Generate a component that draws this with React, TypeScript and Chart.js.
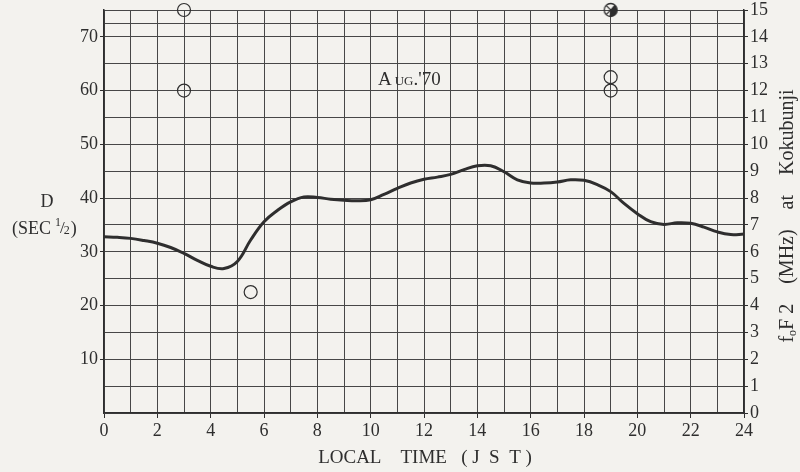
import React, { useEffect, useRef } from 'react';
import { Chart, registerables } from 'chart.js';

Chart.register(...registerables);

// Local time (hours, JST)
const hours = [0, 0.5, 1, 1.5, 2, 2.5, 3, 3.5, 4, 4.5, 5, 5.5, 6, 6.5, 7, 7.5, 8, 8.5, 9, 9.5, 10, 10.5, 11, 11.5, 12, 12.5, 13, 13.5, 14, 14.5, 15, 15.5, 16, 16.5, 17, 17.5, 18, 18.5, 19, 19.5, 20, 20.5, 21, 21.5, 22, 22.5, 23, 23.5, 24];
// D (sec^1/2) curve
const dValues = [32.8, 32.7, 32.5, 32.1, 31.6, 30.8, 29.7, 28.4, 27.3, 26.9, 28.2, 32.2, 35.6, 37.7, 39.3, 40.2, 40.1, 39.8, 39.6, 39.5, 39.7, 40.7, 41.8, 42.8, 43.5, 43.9, 44.4, 45.3, 46.0, 46.0, 44.9, 43.4, 42.8, 42.8, 43.0, 43.4, 43.3, 42.5, 41.2, 39.0, 37.1, 35.6, 35.1, 35.4, 35.3, 34.6, 33.7, 33.2, 33.3];

// open circle observations
const circleHours = [3, 3, 5.5, 19, 19];
const circleValues = [75, 60, 22.5, 62.5, 60];
// crossed circle observation
const crossHours = [19];
const crossValues = [75];

// axis ticks
const leftGridTicks = [0, 5, 10, 15, 20, 25, 30, 35, 40, 45, 50, 55, 60, 65, 70, 72.5, 75];
const leftLabelTicks = [10, 20, 30, 40, 50, 60, 70];
const rightTicks = [0, 1, 2, 3, 4, 5, 6, 7, 8, 9, 10, 11, 12, 13, 14, 15];
const xLabelHours = [0, 2, 4, 6, 8, 10, 12, 14, 16, 18, 20, 22, 24];

const INK = '#2e2e2e';
const GRID = '#474747';
const BG = '#f3f2ee';
const SERIF = '"Liberation Serif", "DejaVu Serif", serif';

function makeCrossedCircle(): HTMLCanvasElement {
  const c = document.createElement('canvas');
  c.width = 18;
  c.height = 18;
  const g = c.getContext('2d')!;
  g.strokeStyle = INK;
  g.lineWidth = 1.3;
  g.beginPath();
  g.arc(9, 9, 6.5, 0, Math.PI * 2);
  g.stroke();
  g.fillStyle = INK;
  g.beginPath();
  g.moveTo(9, 9);
  g.arc(9, 9, 6.5, -Math.PI * 0.3, Math.PI * 0.55);
  g.closePath();
  g.fill();
  g.beginPath();
  g.moveTo(4.4, 4.4);
  g.lineTo(13.6, 13.6);
  g.moveTo(13.6, 4.4);
  g.lineTo(4.4, 13.6);
  g.stroke();
  return c;
}

const textPlugin = {
  id: 'texts',
  beforeDraw(chart: any) {
    const ctx = chart.ctx;
    ctx.save();
    ctx.fillStyle = BG;
    ctx.fillRect(0, 0, chart.width, chart.height);
    ctx.restore();
  },
  afterDraw(chart: any) {
    const ctx = chart.ctx;
    ctx.save();
    ctx.fillStyle = INK;
    ctx.textBaseline = 'alphabetic';

    // left axis title: D (SEC 1/2)
    ctx.font = `18px ${SERIF}`;
    ctx.textAlign = 'center';
    ctx.fillText('D', 47, 207);
    ctx.textAlign = 'left';
    let x = 12;
    const yb = 234;
    ctx.font = `18px ${SERIF}`;
    ctx.fillText('(SEC', x, yb);
    x += ctx.measureText('(SEC').width + 4;
    ctx.font = `12px ${SERIF}`;
    ctx.fillText('1', x, yb - 8);
    x += ctx.measureText('1').width - 1;
    ctx.font = `17px ${SERIF}`;
    ctx.fillText('/', x, yb - 1);
    x += ctx.measureText('/').width - 1;
    ctx.font = `12px ${SERIF}`;
    ctx.fillText('2', x, yb);
    x += ctx.measureText('2').width + 1;
    ctx.font = `18px ${SERIF}`;
    ctx.fillText(')', x, yb);

    // x axis title
    ctx.font = `19px ${SERIF}`;
    ctx.textAlign = 'center';
    ctx.fillText('LOCAL    TIME   ( J  S  T )', 425, 463);

    // annotation AUG.'70
    ctx.textAlign = 'left';
    let ax = 378;
    const ab = 85;
    ctx.font = `19px ${SERIF}`;
    ctx.fillText('A', ax, ab);
    ax += ctx.measureText('A').width + 3;
    ctx.font = `13px ${SERIF}`;
    ctx.fillText('UG', ax, ab);
    ax += ctx.measureText('UG').width;
    ctx.font = `19px ${SERIF}`;
    ctx.fillText(".'70", ax, ab);

    // right axis title (rotated)
    ctx.translate(787, 216);
    ctx.rotate(-Math.PI / 2);
    const big = `20px ${SERIF}`;
    const small = `12px ${SERIF}`;
    const pieces: [string, string, number][] = [
      ['f', big, 0],
      ['o', small, 3],
      ['F 2    (MHz)    at    Kokubunji', big, 0],
    ];
    let total = 0;
    for (const [t, f] of pieces) {
      ctx.font = f;
      total += ctx.measureText(t).width;
    }
    let px = -total / 2;
    for (const [t, f, dy] of pieces) {
      ctx.font = f;
      ctx.fillText(t, px, 6 + dy);
      px += ctx.measureText(t).width;
    }
    ctx.restore();
  },
};

export default function App() {
  const ref = useRef<HTMLCanvasElement | null>(null);

  useEffect(() => {
    document.body.style.margin = '0';
    document.body.style.background = BG;
    const canvas = ref.current;
    if (!canvas) return;
    const crossed = makeCrossedCircle();

    const chart = new Chart(canvas, {
      type: 'line',
      data: {
        datasets: [
          {
            label: 'D',
            data: hours.map((h, i) => ({ x: h, y: dValues[i] })),
            borderColor: INK,
            borderWidth: 3,
            pointRadius: 0,
            tension: 0.4,
            fill: false,
            yAxisID: 'y',
            clip: false,
          } as any,
          {
            label: 'obs',
            data: circleHours.map((h, i) => ({ x: h, y: circleValues[i] })),
            showLine: false,
            pointStyle: 'circle',
            pointRadius: 6.5,
            pointBorderWidth: 1.2,
            pointBorderColor: INK,
            pointBackgroundColor: 'rgba(0,0,0,0)',
            yAxisID: 'y',
            clip: false,
          } as any,
          {
            label: 'crossed',
            data: crossHours.map((h, i) => ({ x: h, y: crossValues[i] })),
            showLine: false,
            pointStyle: crossed,
            pointRadius: 9,
            yAxisID: 'y',
            clip: false,
          } as any,
        ],
      },
      options: {
        animation: false,
        responsive: false,
        maintainAspectRatio: false,
        layout: { padding: { top: 10, left: 0, right: 0, bottom: 0 } },
        plugins: {
          legend: { display: false },
          tooltip: { enabled: false },
          title: { display: false },
        },
        scales: {
          x: {
            type: 'linear',
            min: 0,
            max: 24,
            afterBuildTicks: (s: any) => {
              const t = [];
              for (let h = 0; h <= 24; h++) t.push({ value: h });
              s.ticks = t;
            },
            afterFit: (s: any) => {
              s.height = 59;
              s.paddingLeft = 0;
              s.paddingRight = 0;
            },
            ticks: {
              autoSkip: false,
              maxRotation: 0,
              padding: 2,
              color: INK,
              font: { family: SERIF, size: 18 },
              callback: (v: any) => (xLabelHours.includes(Number(v)) ? String(v) : ''),
            },
            grid: {
              color: GRID,
              lineWidth: 1,
              tickLength: 5,
              tickColor: (c: any) => (c.tick && xLabelHours.includes(c.tick.value) ? INK : 'rgba(0,0,0,0)'),
            },
            border: { color: INK, width: 1.5 },
          },
          y: {
            type: 'linear',
            position: 'left',
            min: 0,
            max: 75,
            afterBuildTicks: (s: any) => {
              s.ticks = leftGridTicks.map((v) => ({ value: v }));
            },
            afterFit: (s: any) => {
              s.width = 104;
              s.paddingTop = 0;
              s.paddingBottom = 0;
            },
            ticks: {
              autoSkip: false,
              padding: 2,
              color: INK,
              font: { family: SERIF, size: 18 },
              callback: (v: any) => (leftLabelTicks.includes(Number(v)) ? String(v) : ''),
            },
            grid: {
              color: GRID,
              lineWidth: 1,
              tickLength: 4,
              tickColor: (c: any) => (c.tick && leftLabelTicks.includes(c.tick.value) ? INK : 'rgba(0,0,0,0)'),
            },
            border: { color: INK, width: 1.5 },
          },
          y2: {
            type: 'linear',
            position: 'right',
            min: 0,
            max: 15,
            afterBuildTicks: (s: any) => {
              s.ticks = rightTicks.map((v) => ({ value: v }));
            },
            afterFit: (s: any) => {
              s.width = 56;
              s.paddingTop = 0;
              s.paddingBottom = 0;
            },
            ticks: {
              autoSkip: false,
              padding: 2,
              color: INK,
              font: { family: SERIF, size: 18 },
              callback: (v: any) => String(v),
            },
            grid: {
              drawOnChartArea: false,
              tickLength: 4,
              tickColor: INK,
            },
            border: { color: INK, width: 1.5 },
          },
        },
      } as any,
      plugins: [textPlugin],
    });
    return () => chart.destroy();
  }, []);

  return (
    <div style={{ width: 800, height: 472, position: 'relative' }}>
      <canvas ref={ref} width={800} height={472} style={{ display: 'block', width: 800, height: 472 }} />
    </div>
  );
}
